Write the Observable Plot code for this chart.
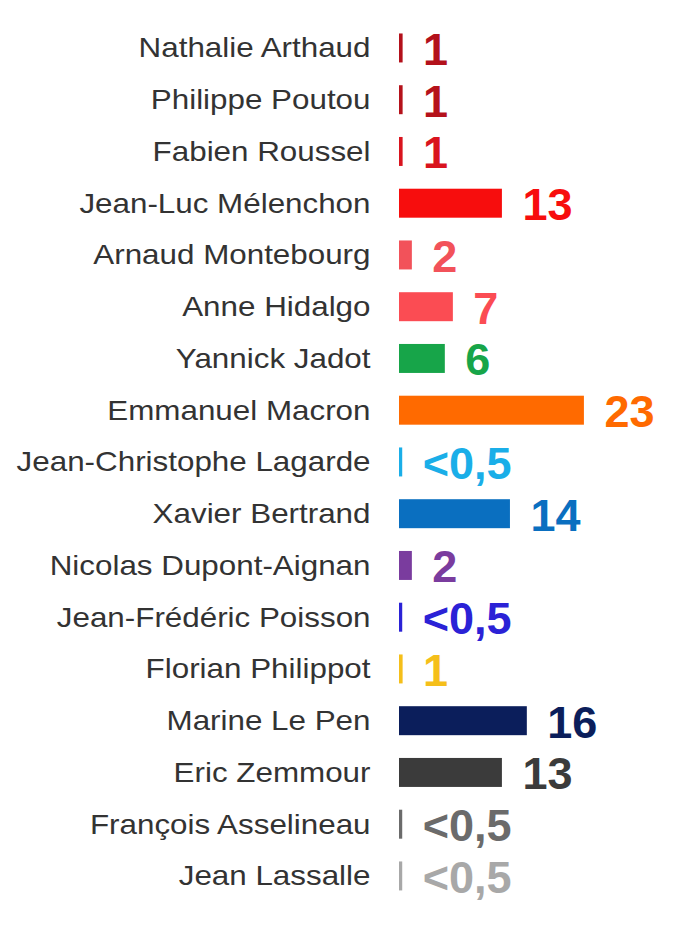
<!DOCTYPE html>
<html>
<head>
<meta charset="utf-8">
<script src="https://cdn.jsdelivr.net/npm/d3@7"></script>
<script src="https://cdn.jsdelivr.net/npm/@observablehq/plot@0.6"></script>
<style>
  html, body { margin: 0; padding: 0; background: #fff; }
  #chart svg { display: block; }
</style>
</head>
<body>
<div id="chart"></div>
<script>
const candidates = [
  "Nathalie Arthaud", "Philippe Poutou", "Fabien Roussel", "Jean-Luc Mélenchon",
  "Arnaud Montebourg", "Anne Hidalgo", "Yannick Jadot", "Emmanuel Macron",
  "Jean-Christophe Lagarde", "Xavier Bertrand", "Nicolas Dupont-Aignan",
  "Jean-Frédéric Poisson", "Florian Philippot", "Marine Le Pen", "Eric Zemmour",
  "François Asselineau", "Jean Lassalle"
];
// Value labels as printed
const valueLabels = ["1", "1", "1", "13", "2", "7", "6", "23", "<0,5", "14", "2", "<0,5", "1", "16", "13", "<0,5", "<0,5"];
// Bar lengths as drawn in the picture (small scores shown as thin ticks)
const barLengths = [0.45, 0.45, 0.45, 12.8, 1.6, 6.7, 5.7, 23, 0.4, 13.8, 1.6, 0.4, 0.45, 15.9, 12.8, 0.4, 0.4];
const colors = [
  "#b3111b", "#b5121b", "#d9141e", "#f70d0d", "#f2525a", "#fb4c53", "#17a549", "#ff6a00",
  "#1aaee8", "#0a6fc0", "#7a3c9e", "#2b22d6", "#f5bf1a", "#0b1e5b", "#3b3b3b", "#6b6b6b", "#a8a8a8"
];

const data = candidates.map((name, i) => ({
  name, label: valueLabels[i], len: barLengths[i], color: colors[i]
}));

const plot = Plot.plot({
  width: 675,
  height: 940,
  marginLeft: 399,
  marginRight: 0,
  marginTop: 10.7,
  marginBottom: 26.8,
  style: { fontFamily: "'Liberation Sans', Arial, sans-serif", background: "#fff" },
  x: { domain: [0, 34.33], axis: null },
  y: { domain: candidates, padding: 0.44, round: false, label: null },
  marks: [
    Plot.axisY({
      tickSize: 0,
      tickPadding: 29,
      fontSize: 28,
      color: "#333",
      label: null
    }),
    Plot.barX(data, { y: "name", x: "len", fill: "color" }),
    Plot.text(data, {
      y: "name", x: "len", text: "label", fill: "color",
      textAnchor: "start", dx: 20, dy: 2,
      fontSize: 45, fontWeight: "bold"
    })
  ]
});

document.getElementById("chart").appendChild(plot);

// Names are set in a wider face in the original: stretch them horizontally
plot.querySelectorAll('[aria-label="y-axis tick label"] text').forEach(t => {
  t.setAttribute("fill", "#333");
  const w = t.getComputedTextLength();
  t.setAttribute("textLength", (w * 1.12).toFixed(1));
  t.setAttribute("lengthAdjust", "spacingAndGlyphs");
});
</script>
</body>
</html>
